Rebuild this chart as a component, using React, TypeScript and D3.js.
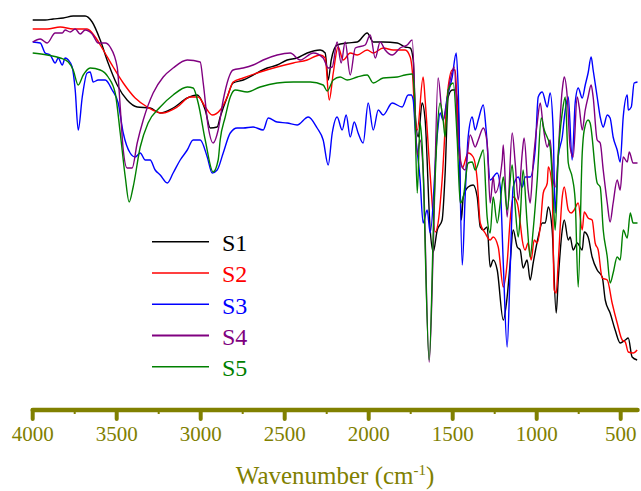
import React from "react";
import * as d3 from "d3";

// FTIR spectra: [wavenumber (cm-1), transmittance (a.u.)]
const S1: [number, number][] = [
  [4000, 350], [3926, 350], [3878, 351], [3818, 352], [3759, 354], [3688, 354], [3646, 348],
  [3598, 330], [3551, 307], [3497, 285], [3438, 270], [3378, 263], [3301, 262], [3241, 257],
  [3164, 262], [3080, 272], [3021, 275], [2973, 260], [2943, 242], [2902, 243], [2884, 253],
  [2842, 273], [2807, 287], [2747, 290], [2688, 295], [2604, 302], [2545, 305], [2485, 310],
  [2426, 312], [2366, 317], [2289, 320], [2259, 317], [2241, 290], [2223, 310], [2188, 325],
  [2128, 327], [2068, 328], [2009, 337], [1973, 328], [1914, 328], [1830, 327], [1783, 323],
  [1753, 322], [1735, 310], [1723, 257], [1705, 233], [1682, 267], [1664, 250], [1634, 140],
  [1616, 118], [1592, 140], [1563, 150], [1545, 197], [1527, 273], [1503, 280], [1485, 280],
  [1467, 260], [1449, 150], [1437, 173], [1408, 183], [1378, 185], [1354, 173], [1336, 143],
  [1318, 140], [1295, 143], [1277, 103], [1259, 110], [1235, 100], [1199, 50], [1176, 73],
  [1158, 107], [1140, 140], [1116, 123], [1098, 120], [1081, 102], [1057, 110], [1039, 90],
  [1021, 107], [991, 133], [967, 147], [949, 147], [931, 163], [908, 140], [884, 57], [872, 90],
  [848, 140], [836, 150], [812, 130], [801, 133], [783, 120], [759, 127], [729, 120], [717, 138],
  [694, 133], [670, 113], [640, 100], [610, 93], [592, 70], [563, 57], [533, 40], [503, 27],
  [473, 30], [455, 32], [432, 13], [402, 10],
];

const S2: [number, number][] = [
  [4000, 341], [3914, 341], [3836, 343], [3759, 341], [3676, 341], [3628, 333], [3580, 320],
  [3521, 303], [3461, 287], [3390, 272], [3318, 263], [3229, 257], [3140, 263], [3063, 273],
  [3015, 273], [2973, 263], [2932, 255], [2884, 260], [2842, 273], [2807, 288], [2747, 292],
  [2646, 298], [2545, 303], [2449, 307], [2366, 310], [2289, 315], [2259, 312], [2235, 270],
  [2211, 297], [2182, 323], [2152, 310], [2110, 317], [2068, 315], [2009, 320], [1973, 317],
  [1914, 322], [1854, 320], [1783, 320], [1753, 313], [1741, 300], [1723, 250], [1711, 240],
  [1676, 293], [1664, 270], [1634, 195], [1604, 138], [1587, 147], [1563, 190], [1533, 273],
  [1503, 300], [1485, 300], [1467, 240], [1443, 202], [1408, 217], [1378, 213], [1354, 190],
  [1336, 147], [1307, 137], [1277, 130], [1259, 133], [1229, 123], [1199, 83], [1176, 107],
  [1158, 150], [1140, 173], [1116, 167], [1098, 147], [1086, 130], [1069, 120], [1051, 127],
  [1033, 110], [1015, 130], [997, 127], [979, 143], [961, 177], [937, 187], [931, 203],
  [908, 183], [896, 80], [884, 77], [872, 107], [848, 173], [836, 183], [812, 160], [795, 157],
  [777, 160], [753, 167], [729, 140], [717, 158], [694, 152], [670, 150], [652, 127], [634, 120],
  [610, 92], [580, 90], [551, 67], [521, 47], [491, 30], [473, 28], [455, 18], [426, 17], [402, 20],
];

const S3: [number, number][] = [
  [4000, 328], [3955, 327], [3926, 317], [3896, 315], [3866, 307], [3848, 312], [3824, 305],
  [3807, 312], [3788, 310], [3765, 303], [3747, 280], [3729, 240], [3705, 273], [3676, 297],
  [3658, 298], [3640, 288], [3610, 290], [3568, 290], [3527, 280], [3491, 267], [3461, 237],
  [3420, 217], [3390, 213], [3360, 217], [3330, 210], [3301, 210], [3271, 200], [3241, 195],
  [3199, 187], [3164, 197], [3122, 210], [3080, 220], [3045, 230], [3003, 230], [2961, 213],
  [2932, 197], [2902, 200], [2866, 217], [2824, 237], [2783, 242], [2747, 242], [2688, 243],
  [2628, 240], [2598, 252], [2545, 248], [2485, 247], [2426, 245], [2360, 253], [2307, 242],
  [2271, 230], [2241, 205], [2217, 237], [2188, 253], [2158, 240], [2134, 255], [2110, 233],
  [2086, 248], [2063, 237], [2033, 227], [2003, 267], [1973, 240], [1943, 260], [1914, 255],
  [1860, 267], [1801, 263], [1765, 275], [1747, 275], [1735, 270], [1723, 240], [1694, 190],
  [1676, 147], [1652, 160], [1634, 137], [1592, 235], [1575, 257], [1557, 250], [1533, 272],
  [1503, 293], [1479, 317], [1467, 280], [1443, 105], [1426, 173], [1408, 233], [1384, 253],
  [1366, 240], [1348, 250], [1318, 265], [1301, 240], [1277, 190], [1235, 197], [1217, 183],
  [1199, 107], [1176, 23], [1158, 100], [1140, 183], [1110, 193], [1086, 183], [1069, 193],
  [1039, 193], [1009, 220], [991, 273], [967, 278], [937, 263], [920, 277], [902, 240],
  [890, 157], [872, 213], [848, 233], [830, 260], [812, 273], [789, 210], [771, 267], [753, 282],
  [729, 272], [711, 285], [694, 297], [676, 313], [664, 300], [640, 273], [622, 253], [604, 243],
  [580, 255], [563, 252], [545, 233], [521, 220], [503, 208], [485, 253], [461, 275], [455, 260],
  [437, 263], [420, 287], [400, 288],
];

const S4: [number, number][] = [
  [4000, 328], [3955, 331], [3914, 327], [3866, 337], [3824, 337], [3807, 340], [3777, 338],
  [3747, 341], [3717, 336], [3688, 340], [3646, 336], [3610, 327], [3568, 327], [3539, 323],
  [3497, 303], [3479, 263], [3461, 220], [3438, 202], [3408, 202], [3378, 227], [3342, 250],
  [3283, 277], [3223, 293], [3164, 302], [3080, 310], [3003, 308], [2985, 287], [2955, 243],
  [2926, 227], [2896, 240], [2866, 270], [2807, 300], [2747, 302], [2688, 305], [2628, 310],
  [2545, 315], [2467, 317], [2408, 310], [2330, 317], [2271, 312], [2241, 302], [2217, 303],
  [2188, 328], [2164, 307], [2140, 328], [2110, 295], [2080, 322], [2021, 325], [1991, 335],
  [1961, 312], [1932, 328], [1902, 320], [1860, 315], [1813, 322], [1771, 325], [1741, 330],
  [1711, 215], [1694, 230], [1676, 200], [1640, 8], [1616, 120], [1587, 292], [1557, 250],
  [1515, 290], [1491, 303], [1467, 223], [1443, 203], [1426, 200], [1396, 235], [1366, 223],
  [1348, 230], [1318, 242], [1295, 227], [1277, 167], [1259, 193], [1247, 177], [1205, 210],
  [1199, 225], [1176, 153], [1146, 237], [1128, 207], [1110, 170], [1086, 217], [1075, 232],
  [1051, 180], [1039, 167], [1021, 207], [997, 247], [979, 267], [961, 243], [937, 223],
  [920, 230], [902, 190], [890, 183], [848, 280], [836, 293], [818, 273], [801, 223], [783, 213],
  [759, 273], [747, 263], [729, 240], [711, 260], [694, 273], [676, 285], [664, 273], [640, 230],
  [622, 227], [604, 200], [580, 167], [563, 148], [545, 167], [521, 190], [503, 180], [485, 213],
  [461, 208], [449, 218], [426, 207], [400, 207],
];

const S5: [number, number][] = [
  [4000, 317], [3914, 315], [3836, 312], [3788, 308], [3759, 300], [3729, 285], [3699, 295],
  [3658, 302], [3598, 300], [3551, 293], [3509, 277], [3479, 237], [3449, 193], [3426, 168],
  [3402, 183], [3360, 223], [3313, 247], [3241, 263], [3164, 275], [3080, 283], [3045, 282],
  [3015, 267], [2973, 230], [2926, 198], [2896, 210], [2884, 230], [2854, 253], [2824, 273],
  [2795, 280], [2723, 278], [2646, 283], [2545, 287], [2449, 288], [2348, 288], [2271, 285],
  [2247, 279], [2211, 290], [2170, 293], [2128, 290], [2068, 293], [2009, 295], [1973, 287],
  [1914, 292], [1830, 293], [1783, 295], [1741, 296], [1729, 280], [1711, 177], [1694, 247],
  [1682, 225], [1640, 10], [1610, 170], [1575, 267], [1557, 250], [1545, 233], [1527, 280],
  [1497, 287], [1473, 230], [1455, 167], [1437, 173], [1408, 207], [1384, 208], [1366, 200],
  [1336, 213], [1318, 220], [1295, 153], [1277, 137], [1259, 173], [1235, 147], [1217, 167],
  [1199, 193], [1176, 160], [1146, 205], [1128, 163], [1110, 133], [1098, 153], [1081, 200],
  [1057, 147], [1039, 113], [1021, 140], [997, 190], [973, 252], [955, 240], [920, 223],
  [902, 173], [890, 140], [872, 213], [848, 257], [830, 273], [812, 207], [789, 193], [771, 170],
  [753, 83], [729, 217], [717, 240], [694, 250], [682, 247], [640, 187], [622, 183], [604, 140],
  [580, 113], [563, 87], [545, 97], [521, 113], [503, 110], [485, 140], [461, 132], [443, 157],
  [426, 147], [400, 147],
];

const seriesNames = ["S1", "S2", "S3", "S4", "S5"];
const seriesData = [S1, S2, S3, S4, S5];
const seriesColors = ["#000000", "#ff0000", "#0000ff", "#800080", "#008000"];
const majorTicks = [4000, 3500, 3000, 2500, 2000, 1500, 1000, 500];
const minorTicks = [3750, 3250, 2750, 2250, 1750, 1250, 750];
const xTitle = "Wavenumber (cm";
const xTitleSup = "-1";

const W = 641;
const H = 491;
const AXIS = "#808000";
const FONT = "'Liberation Serif', 'Times New Roman', serif";

export default function App() {
  const x = d3.scaleLinear().domain([4000, 400]).range([32.7, 637.5]);
  const y = d3.scaleLinear().domain([0, 360]).range([370, 10]);
  const line = d3
    .line<[number, number]>()
    .x((d) => x(d[0]))
    .y((d) => y(d[1]))
    .curve(d3.curveMonotoneX);

  const axisY = 410;
  const legendX0 = 152;
  const legendX1 = 209;
  const legendY0 = 241.7;
  const legendStep = 31.25;

  return (
    <svg
      width={W}
      height={H}
      style={{ position: "fixed", left: 0, top: 0, background: "#fff" }}
      fontFamily={FONT}
    >
      <rect width={W} height={H} fill="#fff" />
      {seriesData.map((s, i) => (
        <path
          key={seriesNames[i]}
          d={line(s) || ""}
          fill="none"
          stroke={seriesColors[i]}
          strokeWidth={1.4}
          strokeLinejoin="round"
        />
      ))}

      {/* legend */}
      {seriesNames.map((n, i) => (
        <g key={n}>
          <line
            x1={legendX0}
            x2={legendX1}
            y1={legendY0 + i * legendStep}
            y2={legendY0 + i * legendStep}
            stroke={seriesColors[i]}
            strokeWidth={i === 3 ? 2 : 1.5}
          />
          <text
            x={222}
            y={legendY0 + i * legendStep + 9.5}
            fontSize={24}
            fill={seriesColors[i]}
          >
            {n}
          </text>
        </g>
      ))}

      {/* x axis */}
      <g>
        {minorTicks.map((t) => (
          <line
            key={"m" + t}
            x1={x(t)}
            x2={x(t)}
            y1={axisY}
            y2={axisY + 4}
            stroke={AXIS}
            strokeWidth={2}
          />
        ))}
        {majorTicks.map((t) => (
          <line
            key={"M" + t}
            x1={x(t)}
            x2={x(t)}
            y1={axisY}
            y2={axisY + 9}
            stroke={AXIS}
            strokeWidth={4}
            strokeLinecap="round"
          />
        ))}
        <line
          x1={x(4000)}
          x2={x(400)}
          y1={axisY}
          y2={axisY}
          stroke={AXIS}
          strokeWidth={4.5}
          strokeLinecap="round"
        />
        {majorTicks.map((t) => (
          <text
            key={"l" + t}
            x={x(t)}
            y={441}
            fontSize={21}
            textAnchor="middle"
            fill={AXIS}
          >
            {t}
          </text>
        ))}
        <text x={(x(4000) + x(400)) / 2} y={484} fontSize={25} textAnchor="middle" fill={AXIS}>
          {xTitle}
          <tspan dy={-9} fontSize={15}>
            {xTitleSup}
          </tspan>
          <tspan dy={9}>)</tspan>
        </text>
      </g>
    </svg>
  );
}
